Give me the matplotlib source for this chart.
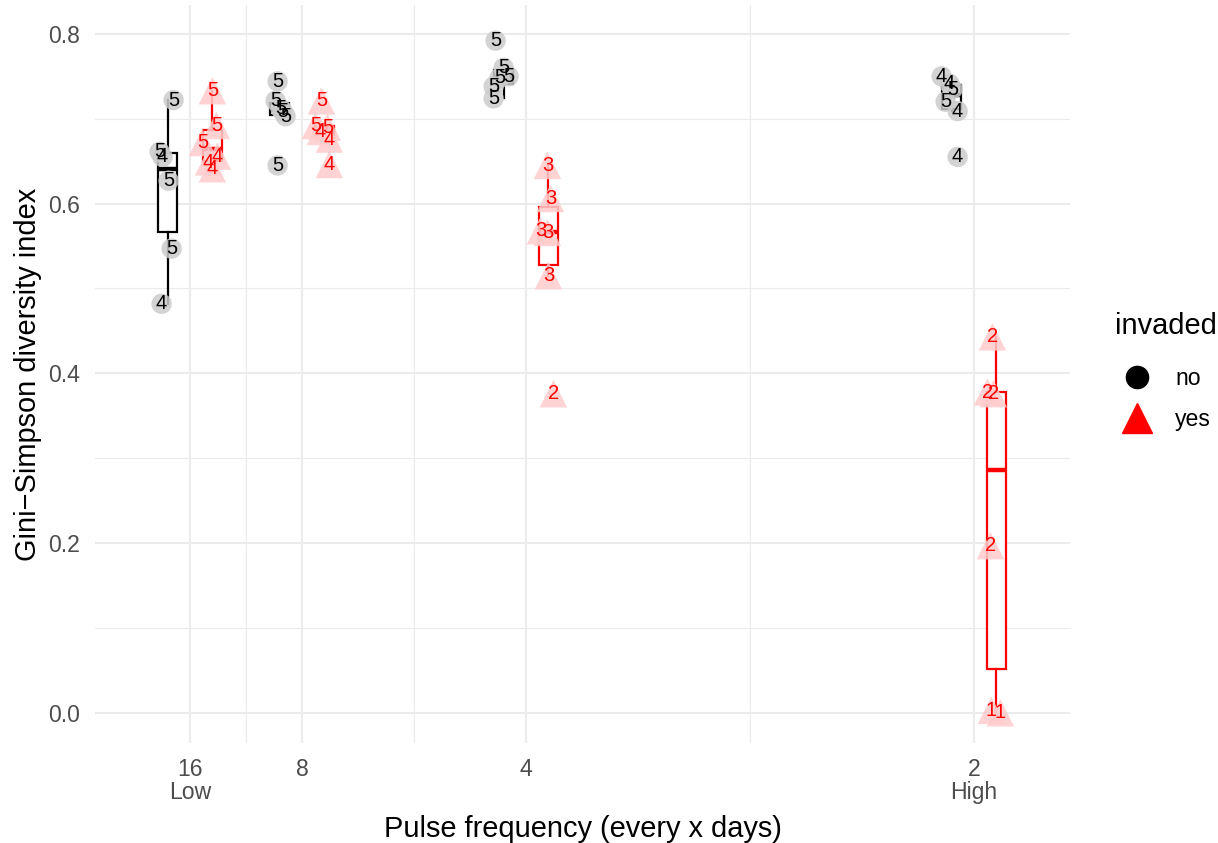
import matplotlib
matplotlib.use("Agg")
import matplotlib.pyplot as plt
from matplotlib.lines import Line2D
import numpy as np

plt.rcParams['font.family'] = ['Liberation Sans', 'DejaVu Sans']

# ---------------- data ----------------
days = [16, 8, 4, 2]
tick_labels = ["16\nLow", "8", "4", "2\nHigh"]
invaded_levels = ["no", "yes"]
legend_title = "invaded"

no_values = [
    [0.722, 0.661, 0.655, 0.627, 0.547, 0.482],
    [0.744, 0.721, 0.712, 0.709, 0.703, 0.645],
    [0.792, 0.760, 0.750, 0.748, 0.738, 0.724],
    [0.750, 0.741, 0.735, 0.720, 0.709, 0.655],
]
no_labels = [
    ["5", "5", "4", "5", "5", "4"],
    ["5", "5", "5", "5", "5", "5"],
    ["5", "5", "5", "5", "5", "5"],
    ["4", "4", "5", "5", "4", "4"],
]
# horizontal jitter (in pixels of the original)
no_jitter = [
    [6, -8, -5, 1, 4, -6],
    [-2, -4, 1, 3, 6, -2],
    [-8, 0, 5, -4, -10, -10],
    [-10, -2, 1, -6, 6, 6],
]

yes_values = [
    [0.733, 0.692, 0.672, 0.656, 0.649, 0.641],
    [0.721, 0.692, 0.690, 0.685, 0.676, 0.646],
    [0.645, 0.606, 0.568, 0.566, 0.515, 0.376],
    [0.443, 0.378, 0.376, 0.197, 0.003, 0.000],
]
yes_labels = [
    ["5", "5", "5", "4", "4", "4"],
    ["5", "5", "5", "4", "4", "4"],
    ["3", "3", "3", "3", "3", "2"],
    ["2", "2", "2", "2", "1", "1"],
]
yes_jitter = [
    [0, 4, -10, 5, -4, 0],
    [-3, -9, 3, -4, 5, 5],
    [-1, 2, -8, -1, 0, 5],
    [-4, -9, -3, -6, -5, 4],
]

# ---------------- style ----------------
W, H = 1218, 843
PX_PER_UNIT = 1792.0          # pixels per unit of frequency (1/days)
DODGE = 0.0125
BOX_W = 0.0105
colors = {"no": "#000000", "yes": "#FF0000"}
pt_colors = {"no": "#CCCCCC", "yes": "#FFCCCC"}
markers = {"no": "o", "yes": "^"}
sizes = {"no": 215, "yes": 390}
grid_c = "#EBEBEB"

fig = plt.figure(figsize=(W / 100, H / 100), dpi=100)
ax = fig.add_axes([95 / W, 1 - 743 / H, (1070 - 95) / W, (743 - 5) / H])

freq = [1.0 / d for d in days]

# grid
maj_x = freq
min_x = [(freq[i] + freq[i + 1]) / 2 for i in range(len(freq) - 1)]
maj_y = [0.0, 0.2, 0.4, 0.6, 0.8]
min_y = [0.1, 0.3, 0.5, 0.7]
for x in maj_x:
    ax.axvline(x, color=grid_c, lw=1.5, zorder=0)
for x in min_x:
    ax.axvline(x, color=grid_c, lw=0.8, zorder=0)
for y in maj_y:
    ax.axhline(y, color=grid_c, lw=1.5, zorder=0)
for y in min_y:
    ax.axhline(y, color=grid_c, lw=0.8, zorder=0)

groups = {
    "no": (no_values, no_labels, no_jitter, -DODGE),
    "yes": (yes_values, yes_labels, yes_jitter, DODGE),
}

for lev in invaded_levels:
    vals, labs, jit, off = groups[lev]
    c = colors[lev]
    for i, f in enumerate(freq):
        pos = f + off
        ax.boxplot([vals[i]], positions=[pos], widths=BOX_W, whis=1.5,
                   showfliers=False, showcaps=False, patch_artist=True,
                   manage_ticks=False,
                   boxprops=dict(facecolor="white", edgecolor=c, linewidth=1.6),
                   whiskerprops=dict(color=c, linewidth=1.6),
                   medianprops=dict(color=c, linewidth=3.2),
                   zorder=2)

for lev in invaded_levels:
    vals, labs, jit, off = groups[lev]
    c = colors[lev]
    for i, f in enumerate(freq):
        xs = [f + off + j / PX_PER_UNIT for j in jit[i]]
        ax.scatter(xs, vals[i], s=sizes[lev], marker=markers[lev],
                   color=pt_colors[lev], edgecolors="none", alpha=0.85, zorder=3)
        for x, y, t in zip(xs, vals[i], labs[i]):
            ax.text(x, y, t, color=c, fontsize=14.5, ha="center", va="center",
                    zorder=4)

ax.set_xlim(0.0625 - 95 / PX_PER_UNIT, 0.5 + 96 / PX_PER_UNIT)
ax.set_ylim(-0.0355, 0.834)

ax.set_xticks(freq)
ax.set_xticklabels(tick_labels, linespacing=1.0)
ax.set_yticks(maj_y)
ax.set_yticklabels([f"{v:.1f}" for v in maj_y])
ax.tick_params(length=0, labelsize=16.6, labelcolor="#4D4D4D", pad=11)
for s in ax.spines.values():
    s.set_visible(False)

ax.set_xlabel("Pulse frequency (every x days)", fontsize=20.9, labelpad=8)
ax.set_ylabel("Gini\u2212Simpson diversity index", fontsize=20.9, labelpad=4)

# legend
fig.text(1115 / W, 1 - 326 / H, legend_title, fontsize=20.9,
         ha="left", va="center")
handles = [
    Line2D([], [], marker="o", linestyle="none", color="#000000", markersize=16),
    Line2D([], [], marker="^", linestyle="none", color="#FF0000", markersize=21),
]
leg = fig.legend(handles, invaded_levels, loc="center left",
                 bbox_to_anchor=(1115 / W, 1 - 399 / H), frameon=False,
                 borderpad=0, borderaxespad=0,
                 fontsize=16.6, handlelength=1.9, handletextpad=0.7,
                 labelspacing=0.78)

fig.savefig("out.png", dpi=100)
